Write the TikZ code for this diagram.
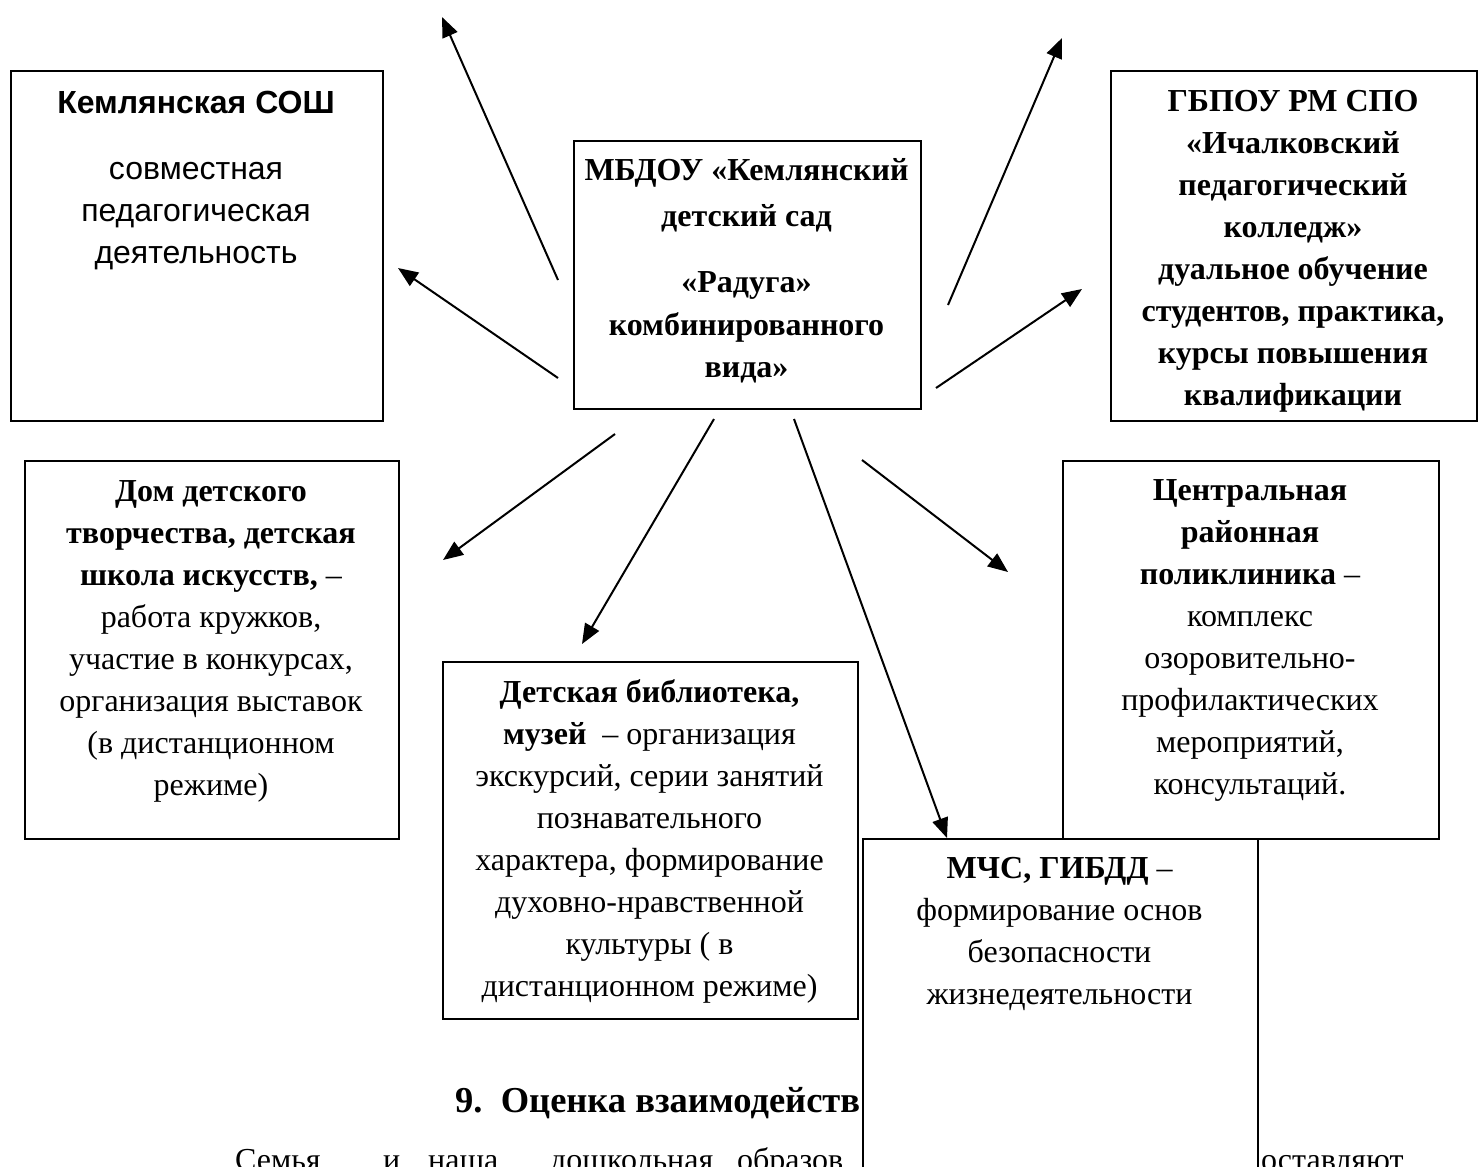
\documentclass[tikz,border=0pt]{standalone}
\usepackage{fontspec}
\setmainfont{Liberation Serif}
\newfontfamily\arialfont{Liberation Sans}
\usetikzlibrary{arrows.meta}
\tikzset{
  box/.style={draw, line width=1.8bp, inner sep=0pt, anchor=north west},
  txt/.style={align=center, inner sep=0pt, anchor=north, font=\fontsize{32bp}{42bp}\selectfont},
  word/.style={inner sep=0pt, anchor=base west, font=\fontsize{32bp}{42bp}\selectfont},
  arr/.style={line width=2bp, -{Triangle[length=20bp,width=16bp]}}
}
\begin{document}
\begin{tikzpicture}[x=1bp,y=-1bp]
\useasboundingbox (0,0) rectangle (1478,1166);
\clip (0,0) rectangle (1478,1166);

% boxes
\node[box, minimum width=372bp, minimum height=350bp] (sosh) at (10,70) {};
\node[box, minimum width=347bp, minimum height=268bp] (mbdou) at (573,140) {};
\node[box, minimum width=366bp, minimum height=350bp] (gbpou) at (1110,70) {};
\node[box, minimum width=374bp, minimum height=378bp] (ddt) at (24,460) {};
\node[box, minimum width=415bp, minimum height=357bp] (lib) at (442,661) {};
\node[box, minimum width=376bp, minimum height=378bp] (crp) at (1062,460) {};

% texts
\node[txt, font=\arialfont\fontsize{32bp}{42bp}\selectfont] (soshT) at (196,83.6)
  {\strut\bfseries Кемлянская СОШ\\[24bp] совместная\\ педагогическая\\ деятельность};
\node[txt, font=\bfseries\fontsize{32bp}{42bp}\selectfont] (mbdouT) at (746.5,150.6)
  {\strut МБДОУ «Кемлянский\\[4bp] детский сад\\[24bp] «Радуга»\\[1bp] комбинированного\\ вида»};
\node[txt, font=\bfseries\fontsize{32bp}{42bp}\selectfont] (gbpouT) at (1293,81.6)
  {\strut ГБПОУ РМ СПО\\ «Ичалковский\\ педагогический\\ колледж»\\ дуальное обучение\\ студентов, практика,\\ курсы повышения\\ квалификации};
\node[txt] (ddtT) at (211,471.6)
  {\strut\textbf{Дом детского}\\ \textbf{творчества, детская}\\ \textbf{школа искусств,} –\\ работа кружков,\\ участие в конкурсах,\\ организация выставок\\ (в дистанционном\\ режиме)};
\node[txt] (libT) at (649.5,672.6)
  {\strut\textbf{Детская библиотека,}\\ \textbf{музей}\ \ – организация\\ экскурсий, серии занятий\\ познавательного\\ характера, формирование\\ духовно-нравственной\\ культуры ( в\\ дистанционном режиме)};
\node[txt] (crpT) at (1250,470.6)
  {\strut\textbf{Центральная}\\ \textbf{районная}\\ \textbf{поликлиника} –\\ комплекс\\ озоровительно-\\ профилактических\\ мероприятий,\\ консультаций.};

% heading and body text (partly hidden by the box below)
\node[word, font=\bfseries\fontsize{36.5bp}{42bp}\selectfont] (head) at (455,1112) {9.\ \ Оценка взаимодейств};
\node[word] (w1) at (235,1170) {Семья};
\node[word] (w2) at (383,1170) {и};
\node[word] (w3) at (428,1170) {наша};
\node[word] (w4) at (550,1170) {дошкольная};
\node[word] (w5) at (737,1170) {образов};
\node[word] (w6) at (1261,1170) {оставляют};

% MChS box on top
\node[box, fill=white, minimum width=395bp, minimum height=380bp] (mchs) at (862,838) {};
\node[txt] (mchsT) at (1059.5,848.6)
  {\strut\textbf{МЧС, ГИБДД} –\\ формирование основ\\ безопасности\\ жизнедеятельности};

% arrows
\coordinate (a1s) at (558,280); \coordinate (a1e) at (442,17);
\coordinate (a2s) at (558,378); \coordinate (a2e) at (398,268);
\coordinate (a3s) at (948,305); \coordinate (a3e) at (1062,38);
\coordinate (a4s) at (936,388); \coordinate (a4e) at (1082,289);
\coordinate (a5s) at (615,434); \coordinate (a5e) at (443,560);
\coordinate (a6s) at (714,419); \coordinate (a6e) at (582,644);
\coordinate (a7s) at (794,419); \coordinate (a7e) at (947,838);
\coordinate (a8s) at (862,460); \coordinate (a8e) at (1008,572);
\foreach \i in {1,...,8} \draw[arr] (a\i s) -- (a\i e);
\end{tikzpicture}
\end{document}
